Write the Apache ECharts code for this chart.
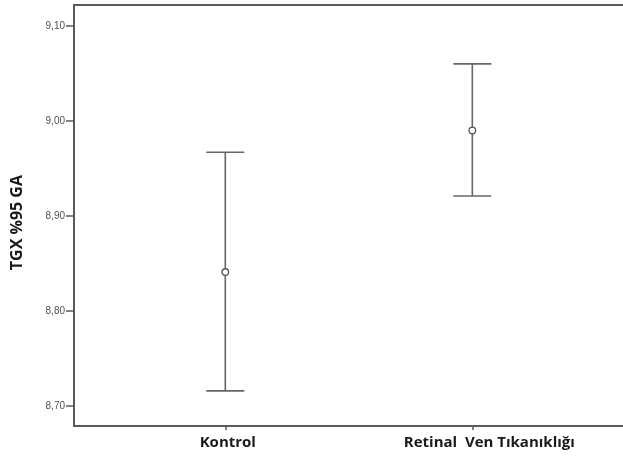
<!DOCTYPE html>
<html>
<head>
<meta charset="utf-8">
<script src="https://cdn.jsdelivr.net/npm/echarts@6/dist/echarts.min.js"></script>
<style>html,body{margin:0;padding:0;background:#fff}#c{width:623px;height:461px}</style>
</head>
<body>
<div id="c"></div>
<script>
const categories = ['Kontrol', 'Retinal  Ven Tıkanıklığı'];
const means = [8.841, 8.990];
const lowerCI = [8.716, 8.921];
const upperCI = [8.967, 9.060];
const yTicks = [8.70, 8.80, 8.90, 9.00, 9.10];
const xPos = [1, 2];

const chart = echarts.init(document.getElementById('c'));
const data = categories.map((c, i) => [xPos[i], lowerCI[i], upperCI[i], means[i]]);

chart.setOption({
  animation: false,
  grid: { left: 74, top: 5, right: -4, bottom: 35, show: false },
  xAxis: [{
    type: 'value', min: 0.3875, max: 2.61,
    axisLine: { show: true, lineStyle: { color: '#5a5a5a', width: 2 } },
    splitLine: { show: false },
    axisTick: { show: true, customValues: xPos, length: 4, lineStyle: { color: '#5a5a5a', width: 1.5 } },
    axisLabel: {
      customValues: xPos, margin: 9,
      formatter: v => {
        const i = xPos.indexOf(v);
        return i === 1 ? '{b|' + categories[i] + '}' : '{a|' + categories[i] + '}';
      },
      rich: {
        a: { fontFamily: 'Open Sans', fontWeight: 'bold', fontSize: 15, color: '#1a1a1a', padding: [0, 0, 0, 5] },
        b: { fontFamily: 'Open Sans', fontWeight: 'bold', fontSize: 15, color: '#1a1a1a', padding: [0, 0, 0, 34] }
      }
    }
  }, {
    type: 'value', position: 'top', min: 0.3875, max: 2.61,
    axisLine: { show: true, lineStyle: { color: '#5a5a5a', width: 2 } },
    axisTick: { show: false }, axisLabel: { show: false }, splitLine: { show: false }
  }],
  yAxis: {
    type: 'value', min: 8.679, max: 9.122,
    axisLine: { show: true, lineStyle: { color: '#5a5a5a', width: 2 } },
    splitLine: { show: false },
    axisTick: { show: true, customValues: yTicks, length: 8, lineStyle: { color: '#5a5a5a', width: 1.5 } },
    axisLabel: {
      customValues: yTicks, margin: 9,
      fontFamily: 'Liberation Sans', fontSize: 10, color: '#505050',
      formatter: v => v.toFixed(2).replace('.', ',')
    }
  },
  graphic: [{
    type: 'text', left: 9, top: 175, rotation: Math.PI / 2,
    style: { text: 'TGX %95 GA', font: 'bold 16px "Open Sans"', fill: '#1a1a1a' }
  }],
  series: [{
    type: 'custom',
    data: data,
    renderItem: (params, api) => {
      const x = api.value(0);
      const lo = api.coord([x, api.value(1)]);
      const hi = api.coord([x, api.value(2)]);
      const m = api.coord([x, api.value(3)]);
      const hw = 19;
      const ls = { stroke: '#666', lineWidth: 1.6 };
      return {
        type: 'group',
        children: [
          { type: 'line', shape: { x1: hi[0], y1: hi[1], x2: lo[0], y2: lo[1] }, style: ls },
          { type: 'line', shape: { x1: hi[0] - hw, y1: hi[1], x2: hi[0] + hw, y2: hi[1] }, style: ls },
          { type: 'line', shape: { x1: lo[0] - hw, y1: lo[1], x2: lo[0] + hw, y2: lo[1] }, style: ls },
          { type: 'circle', shape: { cx: m[0], cy: m[1], r: 3.3 }, style: { fill: '#fff', stroke: '#555', lineWidth: 1.3 } }
        ]
      };
    }
  }]
});
</script>
</body>
</html>
